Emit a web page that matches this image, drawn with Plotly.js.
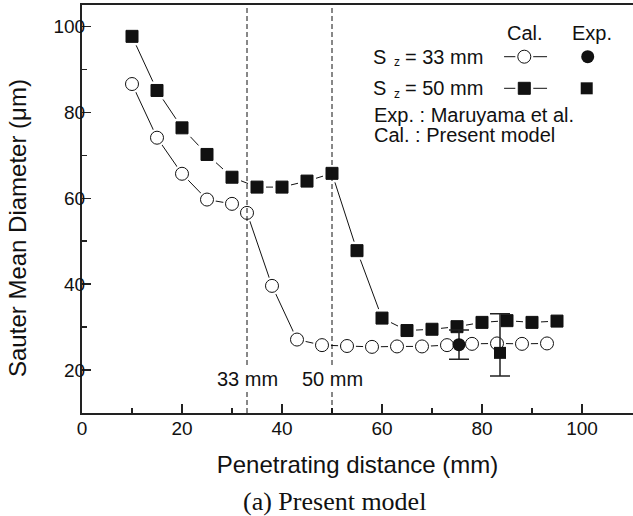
<!DOCTYPE html>
<html>
<head>
<meta charset="utf-8">
<script src="https://cdn.plot.ly/plotly-3.0.1.min.js"></script>
<style>html,body{margin:0;padding:0;background:#fff;}#chart{width:633px;height:516px;}</style>
</head>
<body>
<div id="chart"></div>
<script>
// ---- data ----
const cal33X = [10, 15, 20, 25, 30, 33, 38, 43, 48, 53, 58, 63, 68, 73, 78, 83, 88, 93];
const cal33Y = [86.6, 74.1, 65.7, 59.7, 58.7, 56.6, 39.6, 27.1, 25.8, 25.6, 25.4, 25.5, 25.5, 25.8, 26.1, 26.2, 26.1, 26.2];
const cal50X = [10, 15, 20, 25, 30, 35, 40, 45, 50, 55, 60, 65, 70, 75, 80, 85, 90, 95];
const cal50Y = [97.7, 85.1, 76.4, 70.2, 64.9, 62.6, 62.6, 64.0, 65.8, 47.8, 32.1, 29.2, 29.5, 30.1, 31.1, 31.5, 31.1, 31.4];
const exp33X = [75.4];
const exp33Y = [25.9];
const exp33Err = [3.4];
const exp50X = [83.6];
const exp50Y = [24.0];
const exp50ErrPlus = [9.1];
const exp50ErrMinus = [5.4];
const nozzleMarks = [33, 50];
const nozzleLabels = ['33 mm', '50 mm'];
const xTicks = [0, 20, 40, 60, 80, 100];
const yTicks = [20, 40, 60, 80, 100];

const FONT = 'Liberation Sans, Arial, sans-serif';
const MS = 12, GAP = 18;

function lineTrace(x, y, xa, ya) {
  return {x, y, xaxis: xa || 'x', yaxis: ya || 'y', mode: 'lines', line: {color: '#111', width: 1}, hoverinfo: 'skip', showlegend: false};
}
function gapTrace(x, y, sym, xa, ya) {
  return {x, y, xaxis: xa || 'x', yaxis: ya || 'y', mode: 'markers', marker: {symbol: sym, size: GAP, color: '#fff', line: {width: 0}}, hoverinfo: 'skip', showlegend: false};
}
function markTrace(x, y, sym, fill, size, xa, ya) {
  return {x, y, xaxis: xa || 'x', yaxis: ya || 'y', mode: 'markers', marker: {symbol: sym, size: size, color: fill, line: {color: '#111', width: 1}}, hoverinfo: 'skip', showlegend: false};
}

const traces = [
  lineTrace(cal33X, cal33Y),
  lineTrace(cal50X, cal50Y),
  gapTrace(cal33X, cal33Y, 'circle'),
  gapTrace(cal50X, cal50Y, 'square'),
  markTrace(cal33X, cal33Y, 'circle', '#fff', 13),
  markTrace(cal50X, cal50Y, 'square', '#111', MS),
  {x: exp33X, y: exp33Y, mode: 'markers', marker: {symbol: 'circle', size: 13, color: '#111'},
   error_y: {type: 'data', array: exp33Err, color: '#222', thickness: 1.5, width: 10}, hoverinfo: 'skip', showlegend: false},
  {x: exp50X, y: exp50Y, mode: 'markers', marker: {symbol: 'square', size: 12, color: '#111'},
   error_y: {type: 'data', symmetric: false, array: exp50ErrPlus, arrayminus: exp50ErrMinus, color: '#222', thickness: 1.5, width: 10}, hoverinfo: 'skip', showlegend: false},
  // legend key symbols (paper-like overlay axes)
  lineTrace([0.766, 0.844], [0.8733, 0.8733], 'x2', 'y2'),
  lineTrace([0.766, 0.844], [0.7958, 0.7958], 'x2', 'y2'),
  gapTrace([0.8027], [0.8733], 'circle', 'x2', 'y2'),
  gapTrace([0.8027], [0.7958], 'square', 'x2', 'y2'),
  markTrace([0.8027], [0.8733], 'circle', '#fff', 13, 'x2', 'y2'),
  markTrace([0.8027], [0.7958], 'square', '#111', MS, 'x2', 'y2'),
  {x: [0.9178], y: [0.8733], xaxis: 'x2', yaxis: 'y2', mode: 'markers', marker: {symbol: 'circle', size: 13, color: '#111'}, hoverinfo: 'skip', showlegend: false},
  {x: [0.9160], y: [0.7958], xaxis: 'x2', yaxis: 'y2', mode: 'markers', marker: {symbol: 'square', size: 12, color: '#111'}, hoverinfo: 'skip', showlegend: false}
];

const shapes = nozzleMarks.map(v => ({type: 'line', xref: 'x', yref: 'paper', x0: v, x1: v, y0: 0, y1: 1,
  line: {color: '#111', width: 1, dash: '5px,3px'}, layer: 'above'}));

const annFont = {family: FONT, size: 20, color: '#111'};
const subFont = {family: FONT, size: 12, color: '#111'};
function txt(x, y, text, anchor, font) {
  return {x, y, xref: 'paper', yref: 'paper', text, showarrow: false, font: font || annFont, xanchor: anchor || 'left', yanchor: 'middle', borderpad: 0};
}
const annotations = nozzleMarks.map((v, i) => ({x: v, xref: 'x', y: 0.0833, yref: 'paper', text: nozzleLabels[i],
  showarrow: false, font: annFont, xanchor: 'center', yanchor: 'middle', bgcolor: '#fff'}));
const rowS = [0.8733, 0.7958];
const rowLab = ['= 33 mm', '= 50 mm'];
rowS.forEach((ry, i) => {
  annotations.push(txt(0.5263, ry, 'S', 'left'));
  annotations.push(txt(0.5717, ry - 0.0135, 'z', 'center', subFont));
  annotations.push(txt(0.5835, ry, rowLab[i], 'left'));
});
annotations.push(
  txt(0.804, 0.9314, 'Cal.', 'center'),
  txt(0.925, 0.9314, 'Exp.', 'center'),
  txt(0.5281, 0.7304, 'Exp. : Maruyama et al.', 'left'),
  txt(0.5281, 0.6814, 'Cal. : Present model', 'left'),
  {x: 0.459, y: -0.2157, xref: 'paper', yref: 'paper', text: '(a) Present model', showarrow: false,
   font: {family: 'Liberation Serif, Times New Roman, serif', size: 26, color: '#111'}, xanchor: 'center', yanchor: 'middle'},
  {x: -0.118, y: 0.4534, xref: 'paper', yref: 'paper', text: 'Sauter Mean Diameter (\u03bcm)', showarrow: false, textangle: -90,
   font: {family: FONT, size: 24, color: '#111'}, xanchor: 'center', yanchor: 'middle'}
);

const axBase = {showgrid: false, zeroline: false, linecolor: '#222', linewidth: 2, ticks: 'inside', ticklen: 9, tickwidth: 1.5,
  tickcolor: '#222', tickfont: {family: FONT, size: 19, color: '#111'}, automargin: false,
  minor: {ticks: 'inside', ticklen: 5, tickwidth: 1.5, tickcolor: '#222', dtick: 10, showgrid: false}};

const layout = {
  width: 633, height: 516,
  margin: {l: 82, r: 0, t: 5, b: 103},
  paper_bgcolor: '#fff', plot_bgcolor: '#fff',
  showlegend: false,
  xaxis: Object.assign({}, axBase, {range: [0, 110.2], tickmode: 'array', tickvals: xTicks, ticktext: xTicks.map(String),
    mirror: true, ticklabelstandoff: -3,
    title: {text: 'Penetrating distance (mm)', font: {family: FONT, size: 24, color: '#111'}, standoff: 18}}),
  yaxis: Object.assign({}, axBase, {range: [10, 105], tickmode: 'array', tickvals: yTicks, ticktext: yTicks.map(String),
    ticklabelstandoff: -9}),
  xaxis2: {overlaying: 'x', range: [0, 1], visible: false, fixedrange: true},
  yaxis2: {overlaying: 'y', range: [0, 1], visible: false, fixedrange: true},
  shapes, annotations
};

Plotly.newPlot('chart', traces, layout, {displayModeBar: false, staticPlot: true});
</script>
</body>
</html>
